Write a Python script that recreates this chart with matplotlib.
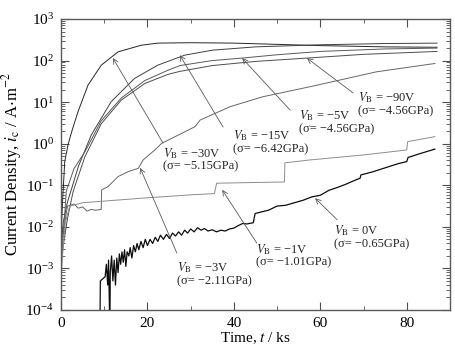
import matplotlib
matplotlib.use('Agg')
import matplotlib.pyplot as plt
import numpy as np
from matplotlib.ticker import LogLocator, MultipleLocator, LogFormatterMathtext

plt.rcParams['font.family'] = ['Liberation Serif', 'DejaVu Serif']
plt.rcParams['mathtext.fontset'] = 'stix'

# data: time (ks) and log10 of current density (A/m^2)
t_30 = [0.0, 0.3, 0.86, 1.62, 2.5, 3.93, 6.25, 9.32, 13.2, 18.6, 22.4, 30, 40, 50, 60, 75, 87]
lg_30 = [-2.3, -1.5, -0.43, -0.03, 0.3, 0.77, 1.41, 1.89, 2.21, 2.37, 2.42, 2.43, 2.42, 2.39, 2.36, 2.33, 2.32]

t_15 = [0.0, 0.5, 1.5, 2.4, 4.0, 7.0, 11.6, 17.0, 22.4, 28.6, 35, 45, 60, 75, 87]
lg_15 = [-2.5, -1.9, -1.4, -1.1, -0.55, 0.21, 1.01, 1.57, 1.89, 2.13, 2.25, 2.33, 2.38, 2.41, 2.42]

t_5 = [0.0, 0.8, 1.2, 3.0, 5.5, 9.3, 13.95, 19.4, 24.8, 27.5, 35, 41.9, 50, 60, 75, 87]
lg_5 = [-2.6, -1.8, -1.15, -0.6, -0.2, 0.55, 1.1, 1.52, 1.77, 1.88, 2.0, 2.06, 2.14, 2.22, 2.28, 2.3]

t_90 = [0.0, 1.5, 2.8, 5.5, 9.3, 13.95, 19.4, 24.8, 27.5, 35, 45, 56.9, 70, 87]
lg_90 = [-2.8, -1.8, -1.15, -0.32, 0.48, 1.05, 1.45, 1.67, 1.74, 1.88, 1.98, 2.06, 2.15, 2.22]

t_3 = [0.0, 0.5, 1.0, 1.5, 3.0, 4.0, 5.0, 6.0, 7.0, 8.0, 9.3, 9.4, 10.9, 13.2, 15.6, 17.9,
       19.0, 21.7, 23.3, 26.4, 31.0, 32.2, 39.1, 46.7, 58.0, 73.0, 86.5]
lg_3 = [-3.0, -2.2, -1.8, -1.5, -1.45, -1.55, -1.52, -1.62, -1.58, -1.6, -1.58, -1.11, -1.03,
        -0.79, -0.67, -0.59, -0.39, -0.15, 0.01, 0.17, 0.41, 0.57, 0.89, 1.13, 1.38, 1.73, 1.93]

t_1 = [0.0, 0.5, 1.0, 2.0, 5.0, 10.0, 20.0, 30.0, 35.5, 36.0, 51.7, 51.8, 57.6, 70.0, 80.0, 80.2, 86.5]
lg_1 = [-3.2, -2.5, -1.9, -1.5, -1.42, -1.38, -1.3, -1.23, -1.2, -0.95, -0.92, -0.46, -0.39,
        -0.27, -0.15, 0.05, 0.17]

t_0 = [9.0, 9.1, 10.2, 10.5, 10.8, 11.0, 11.3, 11.4, 11.7, 12.0, 12.3, 12.6, 12.9, 13.2, 13.5,
       13.8, 14.1, 14.4, 14.7, 15.0, 15.3, 15.7, 16.0, 16.4, 16.8, 17.2, 17.6, 18.0, 18.5, 19.0,
       19.5, 20.0, 20.6, 21.2, 21.8, 22.4, 23.0, 23.7, 24.4, 25.1, 25.8, 26.5, 27.2, 27.9, 28.6,
       29.3, 30.0, 30.8, 31.6, 32.4, 33.2, 34.0, 35.0, 36.0, 37.0, 38.0, 39.0, 40.0, 41.0, 42.0,
       43.0, 44.5, 44.9, 46, 48, 50, 52, 54, 56, 58, 60, 62, 64, 66, 68, 69.2, 69.4, 72, 75, 78,
       80, 80.3, 83, 86.5]
lg_0 = [-4.5, -3.3, -3.2, -2.9, -3.4, -2.8, -4.5, -3.1, -2.7, -3.3, -2.8, -3.4, -2.75, -3.1, -2.65,
        -2.9, -2.6, -2.85, -2.55, -2.95, -2.6, -2.7, -2.5, -2.75, -2.45, -2.6, -2.4, -2.55, -2.35, -2.5,
        -2.3, -2.45, -2.3, -2.4, -2.25, -2.35, -2.2, -2.3, -2.18, -2.28, -2.15, -2.22, -2.12, -2.2, -2.08,
        -2.15, -2.05, -2.12, -2.02, -2.08, -2.04, -2.1, -2.07, -2.12, -2.08, -2.1, -2.05, -2.03, -1.97, -1.92,
        -1.93, -1.9, -1.68, -1.65, -1.6, -1.5, -1.48, -1.42, -1.36, -1.28, -1.24, -1.12, -1.05, -0.97, -0.88,
        -0.83, -0.75, -0.68, -0.58, -0.48, -0.43, -0.33, -0.24, -0.13]

series = [
    (t_30, lg_30, '0.15', 0.7),
    (t_15, lg_15, '0.25', 0.7),
    (t_5, lg_5, '0.35', 0.7),
    (t_90, lg_90, '0.3', 0.7),
    (t_3, lg_3, '0.4', 0.7),
    (t_1, lg_1, '0.55', 0.7),
    (t_0, lg_0, '0.05', 0.9),
]

labels = [
    ('$V_{\\mathrm{B}}$ = \u221230V\n(\u03c3= \u22125.15GPa)', (23.6, -0.37), (23.6, 0.017), (12.0, 2.06)),
    ('$V_{\\mathrm{B}}$ = \u221215V\n(\u03c3= \u22126.42GPa)', (39.8, 0.05), (37.5, 0.40), (27.5, 2.13)),
    ('$V_{\\mathrm{B}}$ = \u22125V\n(\u03c3= \u22124.56GPa)', (55.1, 0.53), (53.0, 0.81), (41.9, 2.06)),
    ('$V_{\\mathrm{B}}$ = \u221290V\n(\u03c3= \u22124.56GPa)', (68.7, 0.97), (67.6, 1.22), (56.9, 2.06)),
    ('$V_{\\mathrm{B}}$ = \u22123V\n(\u03c3= \u22122.11GPa)', (26.8, -3.12), (26.8, -2.63), (18.3, -0.58)),
    ('$V_{\\mathrm{B}}$ = \u22121V\n(\u03c3= \u22121.01GPa)', (45.1, -2.68), (45.3, -2.39), (37.3, -1.11)),
    ('$V_{\\mathrm{B}}$ = 0V\n(\u03c3= \u22120.65GPa)', (63.2, -2.23), (63.9, -1.83), (58.8, -1.31)),
]

fig = plt.figure(figsize=(4.56, 3.56), dpi=100)
ax = fig.add_axes([0.1338, 0.1292, 0.853, 0.8174])

for t, lg, c, w in series:
    ax.plot(t, 10.0 ** np.array(lg), color=c, lw=w)

for txt, (tx, ty), (ax0, ay0), (ax1, ay1) in labels:
    ax.annotate('', xy=(ax1, 10 ** ay1), xytext=(ax0, 10 ** ay0),
                arrowprops=dict(arrowstyle='->', color='0.35', lw=0.6,
                                shrinkA=0, shrinkB=0, mutation_scale=9))
    ax.text(tx, 10 ** ty, txt, fontsize=9, ha='left', va='center', color='0.15',
            linespacing=1.0)

ax.set_yscale('log')
ax.set_xlim(0, 90)
ax.set_ylim(1e-4, 1e3)
ax.set_xticks([0, 20, 40, 60, 80])
ax.xaxis.set_minor_locator(MultipleLocator(10))
ax.yaxis.set_major_locator(LogLocator(base=10, numticks=10))
ax.yaxis.set_minor_locator(LogLocator(base=10, subs=np.arange(2, 10), numticks=20))
ax.yaxis.set_major_formatter(LogFormatterMathtext())

ax.tick_params(which='both', direction='in', top=True, right=True, color='0.3')
ax.tick_params(which='major', length=6, width=0.8, labelsize=11, pad=5)
ax.tick_params(which='minor', length=3, width=0.6)
for s in ax.spines.values():
    s.set_color('0.35')
    s.set_linewidth(1.0)

ax.set_xlabel('Time, $t$ / ks', fontsize=11, labelpad=0)
ax.set_ylabel('Current Density, $i_{\\mathrm{c}}$ / A$\\cdot$m$^{-2}$', fontsize=12, labelpad=1)

fig.savefig('out.png', dpi=100)
